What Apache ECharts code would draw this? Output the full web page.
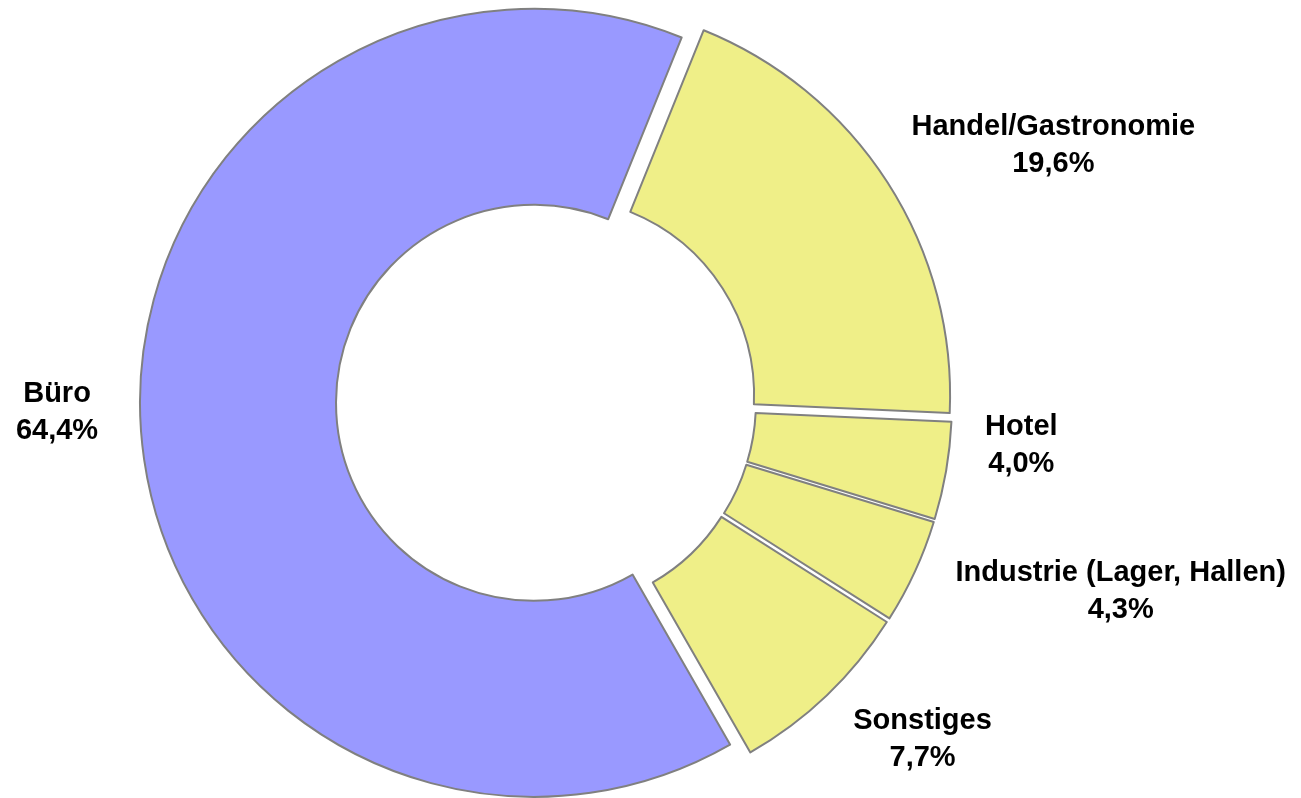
<!DOCTYPE html>
<html>
<head>
<meta charset="utf-8">
<title>Nutzungsarten</title>
<script src="https://cdn.jsdelivr.net/npm/echarts@6/dist/echarts.min.js"></script>
<style>
  html, body { margin: 0; padding: 0; background: #fff; }
  #chart { width: 1301px; height: 798px; }
</style>
</head>
<body>
<div id="chart"></div>
<script>
// Anteile in Prozent, im Uhrzeigersinn ab der oberen Fuge
const categories = ['Handel/Gastronomie', 'Hotel', 'Industrie (Lager, Hallen)', 'Sonstiges', 'Büro']
const shares = [19.6, 4.0, 4.3, 7.7, 64.4]

const sliceColors = ['#EFEF88', '#EFEF88', '#EFEF88', '#EFEF88', '#9999FF']
const center = [546, 402]
const radius = [198, 394]
const startAngle = 68
const explode = 12
// Feinjustierung der Beschriftungen (px)
const labelNudge = [[17, 2], [5, -38], [24, -10], [24, -8], [-8, -22]]

const chart = echarts.init(document.getElementById('chart'))

const total = shares.reduce((a, b) => a + b, 0)
// Richtung der Segmentmitte in Bildschirmkoordinaten
const dirs = []
let acc = 0
shares.forEach(v => {
  const a0 = startAngle - acc / total * 360
  acc += v
  const a1 = startAngle - acc / total * 360
  const m = (a0 + a1) / 2 * Math.PI / 180
  dirs.push([Math.cos(m), -Math.sin(m)])
})

const fmt = v => v.toFixed(1).replace('.', ',') + '%'

// ein Ring je Segment, damit jedes Stück einzeln herausgerückt werden kann
const series = categories.map((name, i) => {
  const [ux, uy] = dirs[i]
  const cx = center[0] + explode * ux
  const cy = center[1] + explode * uy
  return {
    type: 'pie',
    center: [cx, cy],
    radius: radius,
    startAngle: startAngle,
    clockwise: true,
    silent: true,
    avoidLabelOverlap: false,
    emphasis: { disabled: true },
    data: categories.map((n, j) => ({
      name: n,
      value: shares[j],
      itemStyle: j === i
        ? { color: sliceColors[j], borderColor: '#808080', borderWidth: 2 }
        : { opacity: 0 },
      label: { show: j === i }
    })),
    label: {
      position: 'outside',
      formatter: p => p.name + '\n' + fmt(p.value),
      fontFamily: 'Liberation Sans, Arial, sans-serif',
      fontWeight: 'bold',
      fontSize: 29,
      lineHeight: 37,
      color: '#000'
    },
    labelLine: { show: false },
    labelLayout: params => {
      const w = params.labelRect.width
      const h = params.labelRect.height
      const d = radius[1] + explode + 35
      return {
        x: center[0] + d * ux + ux * w / 2 + labelNudge[i][0],
        y: center[1] + d * uy + uy * h / 2 + labelNudge[i][1],
        align: 'center',
        verticalAlign: 'middle'
      }
    }
  }
})

chart.setOption({
  animation: false,
  series: series
})
</script>
</body>
</html>
